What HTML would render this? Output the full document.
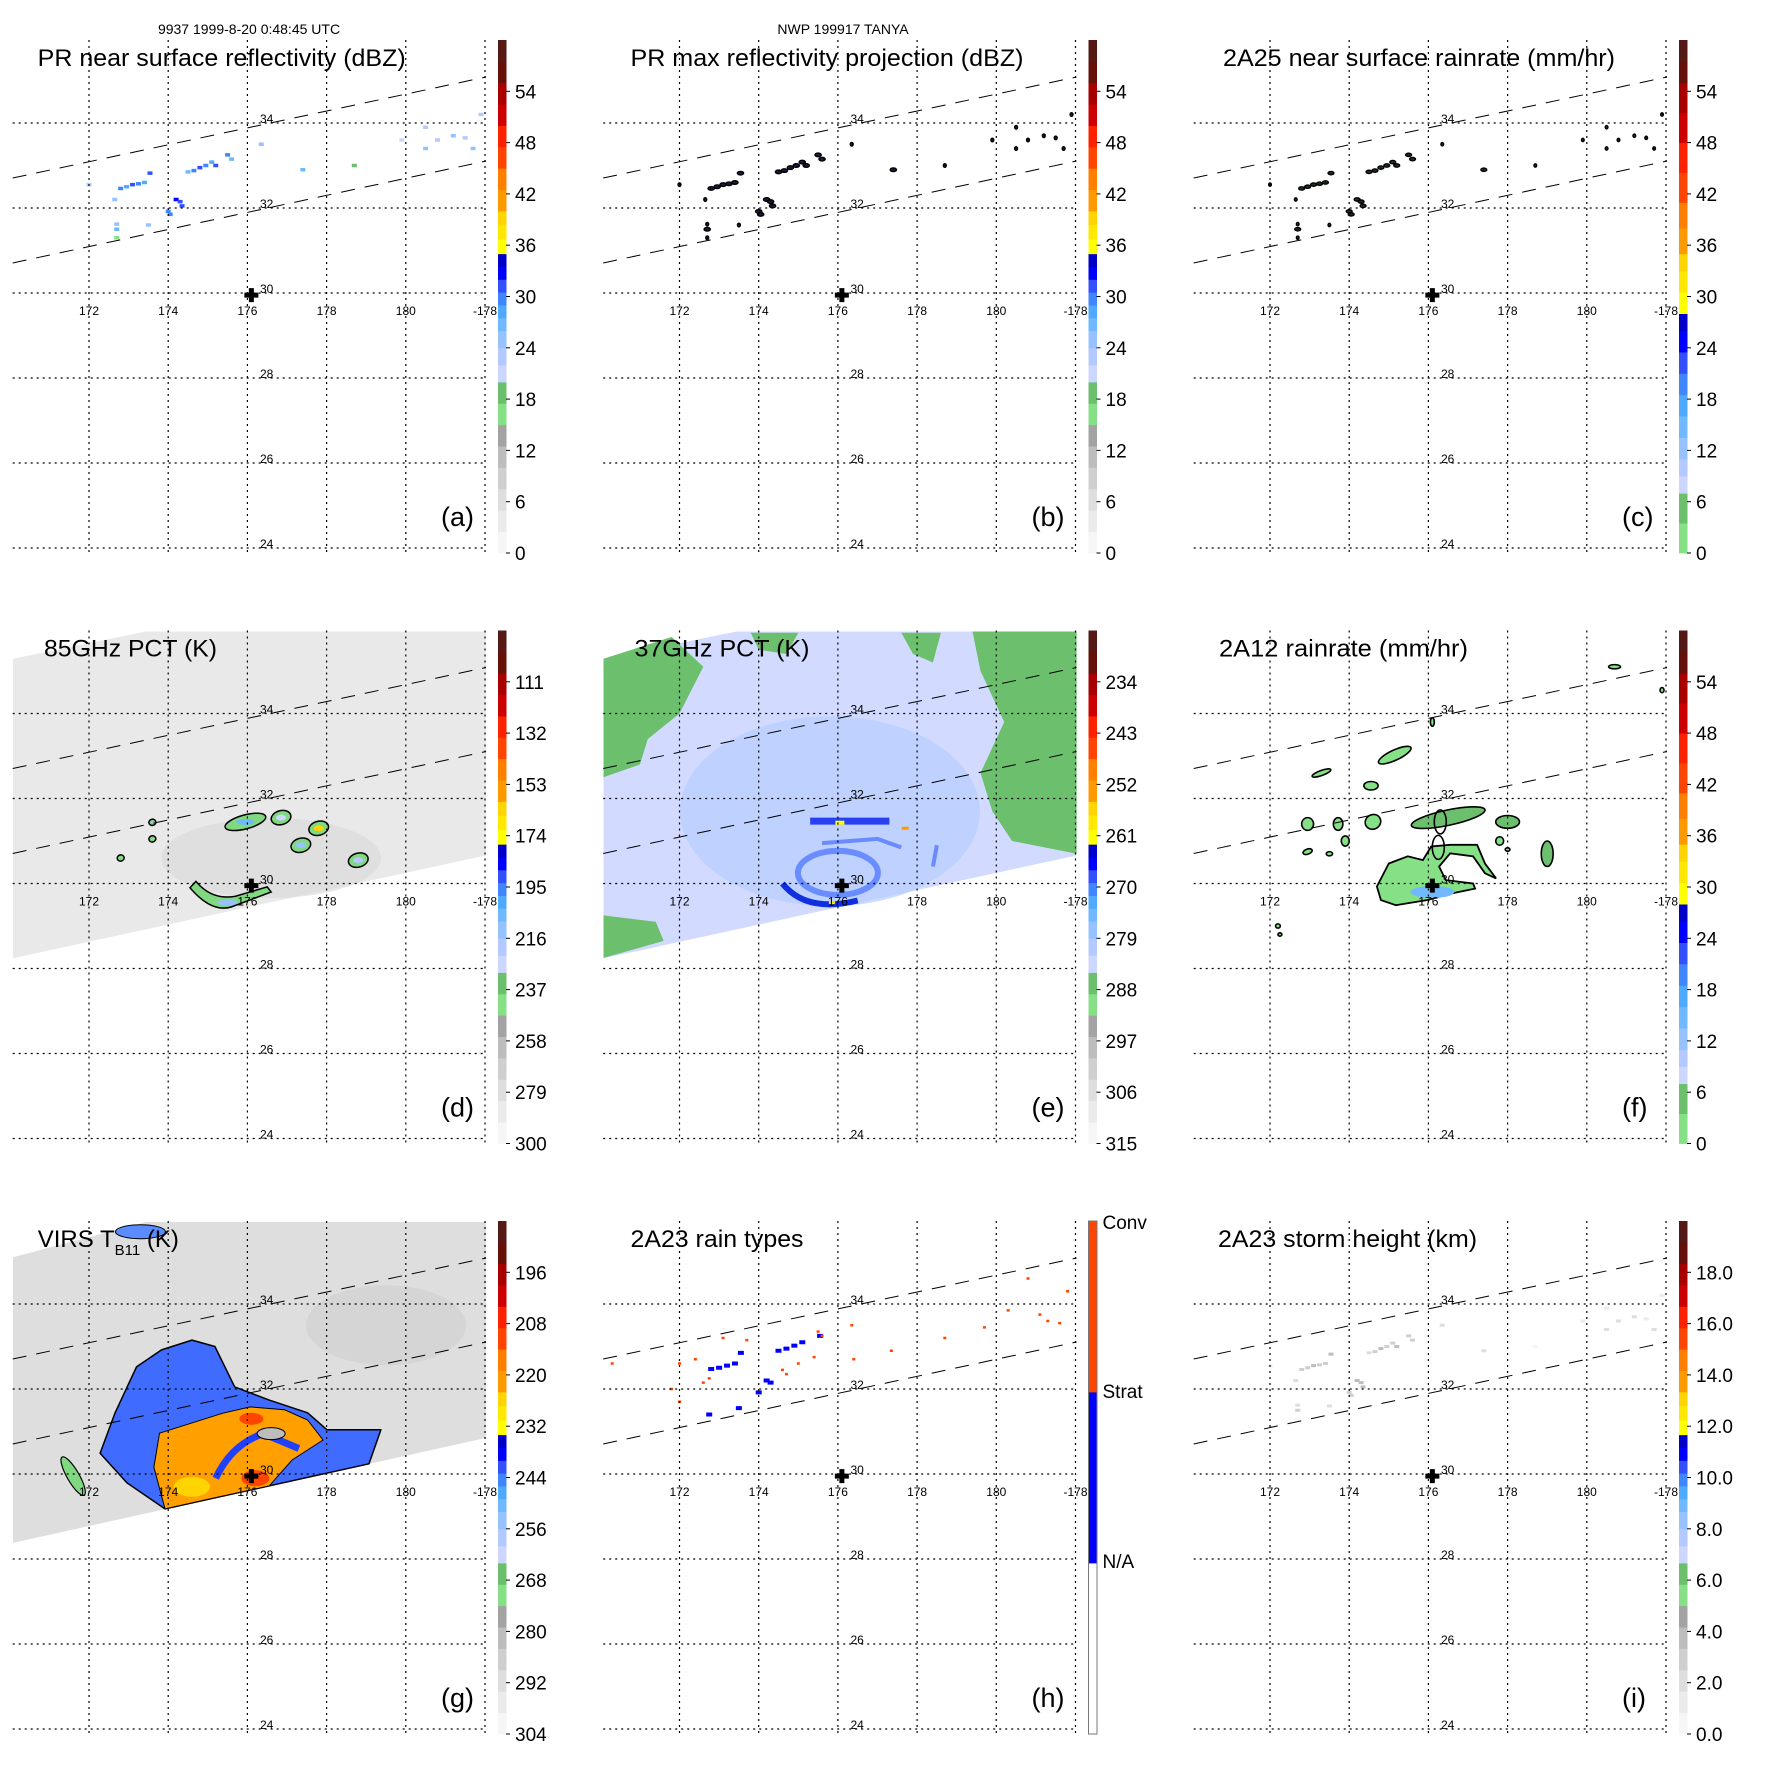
<!DOCTYPE html>
<html><head><meta charset="utf-8"><title>TRMM TANYA</title>
<style>html,body{margin:0;padding:0;background:#fff}svg{display:block}</style></head>
<body>
<svg id="fig" width="1771" height="1771" viewBox="0 0 1771 1771" xmlns="http://www.w3.org/2000/svg" font-family="'Liberation Sans', Arial, sans-serif">
<defs><clipPath id="plotclip" clipPathUnits="userSpaceOnUse"><rect x="12.7" y="40" width="473.5" height="513"/></clipPath></defs>
<rect width="1771" height="1771" fill="#fff"/>
<text x="249" y="34" font-size="14" text-anchor="middle">9937 1999-8-20 0:48:45 UTC</text>
<text x="843" y="34" font-size="14" text-anchor="middle">NWP 199917 TANYA</text>
</svg>
<script>
// ---------- data arrays ----------
const lonTicks = [172,174,176,178,180,182];
const lonTickLabels = ['172','174','176','178','180','-178'];
const latTicks = [34,32,30,28,26,24];
const stormCenter = [176.1, 29.95];
const labelsA = ['54','48','42','36','30','24','18','12','6','0'];
const labelsD = ['111','132','153','174','195','216','237','258','279','300'];
const labelsE = ['234','243','252','261','270','279','288','297','306','315'];
const labelsG = ['196','208','220','232','244','256','268','280','292','304'];
const labelsI = ['18.0','16.0','14.0','12.0','10.0','8.0','6.0','4.0','2.0','0.0'];
// PR near-surface points: lon, lat, dBZ
const prLon = [172.0,172.65,172.8,172.95,173.1,173.25,173.4,173.54,172.7,172.7,174.0,174.2,174.3,174.5,174.65,174.8,174.95,175.1,175.2,175.5,175.6,176.35,177.4,180.5,180.8,180.5,181.2,181.5,181.7,181.9,179.9,178.7,172.7,173.5,174.35,174.05];
const prLat = [32.55,32.2,32.46,32.5,32.55,32.57,32.6,32.82,31.5,31.62,31.92,32.2,32.15,32.85,32.88,32.95,33.0,33.08,33.0,33.25,33.15,33.5,32.9,33.4,33.6,33.9,33.7,33.65,33.4,34.2,33.6,33.0,31.3,31.6,32.05,31.85];
const prVal = [22,24,30,28,31,30,28,31,27,25,30,32,31,26,30,31,30,28,31,30,27,24,26,24,23,22,24,22,24,22,20,18,17,24,31,30];
// 2A23 rain types (1=strat, 2=conv)
const rtLon = [172.8,173.0,173.2,173.4,173.55,172.75,174.0,174.2,174.3,174.5,174.7,174.9,175.1,175.55,172.75,173.5,172.0,172.4,172.6,173.1,173.7,174.7,175.4,175.6,176.35,176.4,177.35,178.7,179.7,180.3,180.8,181.1,181.3,181.6,181.8,170.3,171.8,172.0,174.6,175.0,175.5];
const rtLat = [32.47,32.5,32.55,32.6,32.85,31.4,31.92,32.2,32.15,32.9,32.95,33.02,33.1,33.25,32.25,31.55,32.6,32.7,32.15,33.2,33.15,32.35,32.75,33.25,33.5,32.7,32.9,33.2,33.45,33.85,34.6,33.75,33.6,33.55,34.3,32.6,32.0,31.7,32.45,32.6,33.35];
const rtType = [1,1,1,1,1,1,1,1,1,1,1,1,1,1,2,1,2,2,2,2,2,2,2,2,2,2,2,2,2,2,2,2,2,2,2,2,2,2,2,2,2];
// 2A12 rain blobs: lon, lat, mm/hr, half-extent lon, half-extent lat, tilt
const rbLon = [175.15,173.3,174.55,172.95,173.72,174.6,173.9,176.5,178.0,179.0,177.8,176.1,172.95,173.5,178.0,180.7,181.9,172.2,172.25];
const rbLat = [33.02,32.6,32.3,31.4,31.4,31.45,31.0,31.55,31.45,30.7,31.0,33.8,30.75,30.7,30.8,35.1,34.55,29.0,28.8];
const rbVal = [3,3,3,3,3,3,3,4,4,4,3,3,3,3,3,3,3,3,3];
const rbDLon = [0.45,0.25,0.18,0.15,0.12,0.2,0.1,0.95,0.3,0.15,0.1,0.05,0.12,0.08,0.06,0.15,0.05,0.06,0.05];
const rbDLat = [0.12,0.06,0.1,0.15,0.15,0.17,0.12,0.18,0.15,0.3,0.1,0.1,0.06,0.05,0.04,0.05,0.06,0.05,0.04];
const rbTilt = [-25,-20,0,0,0,-30,0,-12,0,0,0,0,-20,0,0,0,0,0,0];
const rainCoreLon = [174.7,175.0,175.48,175.86,176.07,176.55,177.23,177.43,177.71,177.43,177.13,176.55,176.27,176.44,177.13,177.18,176.55,175.96,175.18,174.8];
const rainCoreLat = [29.93,30.47,30.64,30.55,30.87,30.91,30.91,30.47,30.12,30.24,30.64,30.71,30.4,30.08,30.0,29.88,29.76,29.61,29.49,29.61];
// 85 GHz PCT blobs (K)
const pct85Lon = [175.95,176.85,177.8,177.35,178.8,173.6,173.6,172.8];
const pct85Lat = [31.45,31.55,31.3,30.9,30.55,31.44,31.05,30.6];
const pct85Val = [205,225,165,215,220,215,240,245];
// VIRS storm outline (Tb < 244 K) and cold core (Tb < 232 K)
const virsOuterLon = [173.2,173.83,174.6,175.18,175.68,176.55,177.52,178.01,179.37,179.07,173.92,172.96,172.28,172.66];
const virsOuterLat = [32.52,32.92,33.15,33.0,32.05,31.74,31.44,31.04,31.04,30.24,29.18,29.79,30.49,31.44];
const virsCoreLon = [173.78,175.38,176.07,176.94,177.52,177.91,177.13,176.55,175.18,173.92,173.64];
const virsCoreLat = [30.96,31.43,31.58,31.51,31.27,30.8,30.33,29.72,29.44,29.18,30.16];

// ---------- helpers ----------
const NS = 'http://www.w3.org/2000/svg';
const fig = document.getElementById('fig');
function X(lon){ return 89 + (lon - 172) * 39.6; }
function Y(lat){ return 293 - (lat - 30) * 42.5; }
function V2Y(v){ return 553 - v * 8.55; }
function mk(tag, attrs, parent){
  const e = document.createElementNS(NS, tag);
  for (const k in attrs) e.setAttribute(k, attrs[k]);
  parent.appendChild(e);
  return e;
}
function pts(lons, lats){ return lons.map((l,i)=>X(l).toFixed(1)+','+Y(lats[i]).toFixed(1)).join(' '); }
const PAL_A = [[0,2.5,'#f6f6f6'],[2.5,5,'#ebebeb'],[5,7.5,'#dedede'],[7.5,10,'#cfcfcf'],[10,12.5,'#bdbdbd'],[12.5,15,'#a3a3a3'],[15,17.5,'#86e086'],[17.5,20,'#6cbf6c'],[20,22,'#cdd6ff'],[22,24,'#b3c9ff'],[24,26,'#96c3ff'],[26,27.5,'#70b8ff'],[27.5,29,'#4eaaff'],[29,30.5,'#3f86ff'],[30.5,32,'#3350ff'],[32,33.5,'#0000ff'],[33.5,35,'#0000c8'],[35,36.7,'#ffff00'],[36.7,38.4,'#ffe800'],[38.4,40,'#ffd400'],[40,42.5,'#ff9900'],[42.5,45,'#ff7f00'],[45,47.5,'#ff4500'],[47.5,50,'#ff2200'],[50,52.5,'#cc0000'],[52.5,55,'#a80000'],[55,57.5,'#66100a'],[57.5,60,'#561a16']];
const PAL_C = [[0,3.5,'#86e086'],[3.5,7,'#6cbf6c'],[7,9,'#cdd6ff'],[9,11,'#b3c9ff'],[11,13.5,'#96c3ff'],[13.5,16,'#70b8ff'],[16,18.5,'#4eaaff'],[18.5,21,'#3f86ff'],[21,23.5,'#3350ff'],[23.5,26,'#0000ff'],[26,28,'#0000c8'],[28,30.5,'#ffff00'],[30.5,33,'#ffe800'],[33,35,'#ffd400'],[35,38,'#ff9900'],[38,41,'#ff7f00'],[41,44.5,'#ff4500'],[44.5,48,'#ff2200'],[48,51.5,'#cc0000'],[51.5,55,'#a80000'],[55,57.5,'#66100a'],[57.5,60,'#561a16']];
const PAL_H = [[0,20,'#ffffff'],[20,40,'#0000ff'],[40,60,'#ff4500']];
function col(pal, v){ v=Math.max(0,Math.min(59.99,v)); for(const s of pal){ if(v>=s[0]&&v<s[1]) return s[2]; } return pal[pal.length-1][2]; }
const swath = [[170.08,35.29],[173.44,35.93],[182.03,35.93],[182.03,30.66],[170.08,28.24]];
const swathG = [[170.08,35.1],[173.44,35.93],[182.03,35.93],[182.03,30.85],[170.08,28.38]];
function swathPts(s){ return pts(s.map(p=>p[0]), s.map(p=>p[1])); }

// ---------- panel frame ----------
function frame(g, p){
  for (let i=0;i<lonTicks.length;i++){
    const l = mk('line',{x1:X(lonTicks[i]),x2:X(lonTicks[i]),y1:40,y2:553,stroke:'#000','stroke-width':1.2,'stroke-dasharray':'2 4'},g);
    
    
    const t = mk('text',{x:X(lonTicks[i]),y:315,'font-size':12,'text-anchor':'middle'},g);
    t.textContent = lonTickLabels[i];
    
    
  }
  for (let i=0;i<latTicks.length;i++){
    const l = mk('line',{x1:12.7,x2:486,y1:Y(latTicks[i]),y2:Y(latTicks[i]),stroke:'#000','stroke-width':1.2,'stroke-dasharray':'2 4'},g);
    
    
    const t = mk('text',{x:260,y:Y(latTicks[i]),'font-size':12},g);
    t.textContent = String(latTicks[i]);
    
    
  }
  const sw1 = mk('line',{x1:12.7,y1:178,x2:486,y2:77,stroke:'#000','stroke-width':1,'stroke-dasharray':'14 10'},g);
  
  
  const sw2 = mk('line',{x1:12.7,y1:263,x2:486,y2:161,stroke:'#000','stroke-width':1,'stroke-dasharray':'14 10'},g);
  
  
  const cx = X(stormCenter[0]), cy = Y(stormCenter[1]);
  const cr = mk('path',{d:`M${cx-7},${cy} H${cx+7} M${cx},${cy-7} V${cy+7}`,stroke:'#000','stroke-width':5},g);
  
  
  const tt = mk('text',{x:p.tx,y:66,'font-size':24,textLength:p.tw,lengthAdjust:'spacingAndGlyphs'},g);
  if (p.sub){
    tt.removeAttribute('textLength');
    tt.innerHTML = 'VIRS T<tspan font-size="15" dy="8">B11</tspan><tspan dy="-8"> (K)</tspan>';
  } else tt.textContent = p.title;
  
  
  const pl = mk('text',{x:441,y:526,'font-size':27},g);
  pl.textContent = '('+p.id+')';
  
  
  const cb = mk('g',{},g);
  
  
  for (const s of p.pal){
    const r = mk('rect',{x:498,y:V2Y(s[1]),width:8.5,height:V2Y(s[0])-V2Y(s[1])+0.4,fill:s[2]},cb);
    
    
  }
  if (p.id==='h'){
    const bd = mk('rect',{x:498,y:V2Y(60),width:8.5,height:513,fill:'none',stroke:'#777','stroke-width':1},cb);
    
    
    const hl = [['Conv',48],['Strat',217],['N/A',387]];
    for (const h of hl){
      const t = mk('text',{x:512,y:h[1],'font-size':19},cb);
      t.textContent = h[0];
      
      
    }
  } else {
    for (let i=0;i<p.labels.length;i++){
      const v = 54 - i*6;
      const t = mk('text',{x:515,y:V2Y(v)+7,'font-size':19},cb);
      t.textContent = p.labels[i];
      
      
      const tk = mk('line',{x1:506,x2:510,y1:V2Y(v),y2:V2Y(v),stroke:'#000','stroke-width':1},cb);
      
      
    }
  }
}

// ---------- panel data layers ----------
function dot(d, lon, lat, w, h, fill, name){
  const r = mk('rect',{x:X(lon)-w/2,y:Y(lat)-h/2,width:w,height:h,fill:fill},d);
  
  
  return r;
}
function drawA(d){ for(let i=0;i<prLon.length;i++) dot(d,prLon[i],prLat[i],5,3.5,col(PAL_A,prVal[i]),'pr-pixel'); }
function drawB(d){
  for(let i=0;i<prLon.length;i++){
    const e = mk('ellipse',{cx:X(prLon[i]),cy:Y(prLat[i]),rx:prVal[i]>=26?3.2:1.5,ry:1.8,fill:'#1a1a40',stroke:'#000','stroke-width':1.3},d);
    
    
  }
}
function drawC(d){
  for(let i=0;i<prLon.length;i++){
    const e = mk('ellipse',{cx:X(prLon[i]),cy:Y(prLat[i]),rx:prVal[i]>=26?3:1.4,ry:1.7,fill:'#203020',stroke:'#000','stroke-width':1.3},d);
    
    
  }
}
function drawD(d){
  const s = mk('polygon',{points:swathPts(swath),fill:'#e9e9e9'},d);
  
  
  const sm = mk('ellipse',{cx:X(176.6),cy:Y(30.6),rx:110,ry:40,fill:'#d8d8d8',opacity:0.6},d);
  
  
  for(let i=0;i<pct85Lon.length;i++){
    const u = (300-pct85Val[i])*54/189;
    const big = i<5 ? 1 : 0.35;
    const e = mk('ellipse',{cx:X(pct85Lon[i]),cy:Y(pct85Lat[i]),rx:(i===0?21:10)*big,ry:6*big+1,fill:'#80d880',stroke:'#000','stroke-width':1.5,transform:`rotate(-15 ${X(pct85Lon[i])} ${Y(pct85Lat[i])})`},d);
    
    
    const c = mk('ellipse',{cx:X(pct85Lon[i]),cy:Y(pct85Lat[i]),rx:(i===0?9:5)*big,ry:3*big,fill:col(PAL_A,u)},d);
    
    
  }
  const ban = mk('path',{d:`M${X(174.55)},${Y(29.9)} Q${X(175.1)},${Y(29.3)} ${X(175.6)},${Y(29.45)} L${X(176.6)},${Y(29.8)} L${X(176.5)},${Y(29.92)} L${X(175.7)},${Y(29.7)} Q${X(175.1)},${Y(29.6)} ${X(174.7)},${Y(30.05)} Z`,fill:'#80d880',stroke:'#000','stroke-width':1.5},d);
  
  
  const bc = mk('ellipse',{cx:X(175.5),cy:Y(29.55),rx:10,ry:3,fill:'#96c3ff'},d);
  
  
}
function drawE(d){
  const s = mk('polygon',{points:swathPts(swath),fill:'#d2dbff'},d);
  
  
  const lb = mk('ellipse',{cx:X(175.8),cy:Y(31.7),rx:150,ry:95,fill:'#b5cdff',opacity:0.7},d);
  
  
  const greens = [
    [[170.08,35.29],[171.8,35.8],[172.6,35.1],[172.0,34.0],[171.2,33.4],[171.0,32.8],[170.08,32.5]],
    [[179.4,35.93],[182.03,35.93],[182.03,30.7],[180.4,31.0],[179.9,31.7],[179.6,32.6],[180.2,33.8],[179.6,35.0]],
    [[170.08,28.25],[171.6,28.65],[171.4,29.1],[170.08,29.25]],
    [[173.8,35.9],[175.0,35.9],[174.7,35.4],[174.0,35.5]],
    [[177.6,35.9],[178.6,35.9],[178.4,35.2],[177.9,35.4]]];
  for(const gp of greens){
    const p = mk('polygon',{points:swathPts(gp),fill:'#6cbf6c'},d);
    
    
  }
  const ring = mk('ellipse',{cx:X(176.0),cy:Y(30.25),rx:40,ry:22,fill:'none',stroke:'#5a80ff','stroke-width':6,opacity:0.85},d);
  
  
  const arc = mk('path',{d:`M${X(174.6)},${Y(30.0)} Q${X(175.2)},${Y(29.3)} ${X(176.5)},${Y(29.6)}`,fill:'none',stroke:'#1030e0','stroke-width':6},d);
  
  
  const band = mk('rect',{x:X(175.3),y:Y(31.55),width:X(177.3)-X(175.3),height:7,fill:'#2840f0'},d);
  
  
  const band2 = mk('path',{d:`M${X(175.6)},${Y(30.95)} L${X(177.0)},${Y(31.05)} L${X(177.6)},${Y(30.85)} M${X(178.5)},${Y(30.9)} L${X(178.4)},${Y(30.4)}`,fill:'none',stroke:'#6a8aff','stroke-width':4},d);
  
  
  dot(d,176.05,31.43,9,4,'#ffff00','pct37-cold-pixel');
  dot(d,177.7,31.3,7,3,'#ff9900','pct37-cold-pixel');
  dot(d,175.85,29.55,6,3,'#ffe800','pct37-cold-pixel');
}
function drawF(d){
  const core = mk('polygon',{points:pts(rainCoreLon,rainCoreLat),fill:'#86e086',stroke:'#000','stroke-width':1.8},d);
  
  
  const bl = mk('ellipse',{cx:X(176.1),cy:Y(29.8),rx:22,ry:6,fill:'#70b8ff'},d);
  
  
  for(let i=0;i<rbLon.length;i++){
    const cx=X(rbLon[i]), cy=Y(rbLat[i]);
    const e = mk('ellipse',{cx:cx,cy:cy,rx:rbDLon[i]*39.6,ry:rbDLat[i]*42.5,fill:col(PAL_C,rbVal[i]),stroke:'#000','stroke-width':1.6,transform:`rotate(${rbTilt[i]} ${cx} ${cy})`},d);
    
    
  }
  for (const o of [[176.3,31.45],[176.25,30.85]]){
    const e = mk('ellipse',{cx:X(o[0]),cy:Y(o[1]),rx:6,ry:12,fill:'none',stroke:'#000','stroke-width':1.6},d);
    
    
  }
}
function drawG(d){
  const s = mk('polygon',{points:swathPts(swathG),fill:'#dedede'},d);
  
  
  const cl = mk('ellipse',{cx:X(179.5),cy:Y(33.5),rx:80,ry:40,fill:'#cfcfcf',opacity:0.6},d);
  
  
  const outer = mk('polygon',{points:pts(virsOuterLon,virsOuterLat),fill:'#3f6cff',stroke:'#000','stroke-width':1.5,'stroke-linejoin':'round'},d);
  
  
  const inner = mk('polygon',{points:pts(virsCoreLon,virsCoreLat),fill:'#ffa000',stroke:'#000','stroke-width':1},d);
  
  
  const y1 = mk('ellipse',{cx:X(174.6),cy:Y(29.7),rx:18,ry:10,fill:'#ffd400'},d);
  
  
  const r1 = mk('ellipse',{cx:X(176.2),cy:Y(29.9),rx:14,ry:8,fill:'#ff4500'},d);
  
  
  const r2 = mk('ellipse',{cx:X(176.1),cy:Y(31.3),rx:12,ry:6,fill:'#ff4500'},d);
  
  
  const bb = mk('path',{d:`M${X(175.2)},${Y(29.9)} Q${X(175.6)},${Y(30.7)} ${X(176.4)},${Y(30.95)} L${X(177.3)},${Y(30.6)}`,fill:'none',stroke:'#2040ff','stroke-width':7},d);
  
  
  const hole = mk('ellipse',{cx:X(176.6),cy:Y(30.95),rx:14,ry:6,fill:'#bdbdbd',stroke:'#000','stroke-width':1},d);
  
  
  const gr = mk('ellipse',{cx:X(171.6),cy:Y(29.95),rx:6,ry:22,fill:'#80d880',stroke:'#000','stroke-width':1.2,transform:`rotate(-30 ${X(171.6)} ${Y(29.95)})`},d);
  
  
  const tl = mk('ellipse',{cx:X(173.3),cy:Y(35.7),rx:25,ry:7,fill:'#5a8cff',stroke:'#000','stroke-width':1},d);
  
  
}
function drawH(d){
  for(let i=0;i<rtLon.length;i++) dot(d,rtLon[i],rtLat[i],rtType[i]===1?6:3,rtType[i]===1?4:2.5,rtType[i]===1?'#0000ff':'#ff4500','rain-type-pixel');
}
function drawI(d){
  for(let i=0;i<prLon.length;i++) dot(d,prLon[i],prLat[i],5,3,col(PAL_A,(prVal[i]-14)*0.6),'storm-height-pixel');
}

const panels = [
  {id:'a',row:0,col:0,title:'PR near surface reflectivity (dBZ)',tx:37.7,tw:368,pal:PAL_A,labels:labelsA,draw:drawA},
  {id:'b',row:0,col:1,title:'PR max reflectivity projection (dBZ)',tx:40,tw:393,pal:PAL_A,labels:labelsA,draw:drawB},
  {id:'c',row:0,col:2,title:'2A25 near surface rainrate (mm/hr)',tx:42,tw:392,pal:PAL_C,labels:labelsA,draw:drawC},
  {id:'d',row:1,col:0,title:'85GHz PCT (K)',tx:44,tw:173,pal:PAL_A,labels:labelsD,draw:drawD},
  {id:'e',row:1,col:1,title:'37GHz PCT (K)',tx:44,tw:175,pal:PAL_A,labels:labelsE,draw:drawE},
  {id:'f',row:1,col:2,title:'2A12 rainrate (mm/hr)',tx:38,tw:249,pal:PAL_C,labels:labelsA,draw:drawF},
  {id:'g',row:2,col:0,title:'VIRS TB11 (K)',tx:37.7,tw:147,pal:PAL_A,labels:labelsG,draw:drawG,sub:true},
  {id:'h',row:2,col:1,title:'2A23 rain types',tx:40,tw:173,pal:PAL_H,labels:[],draw:drawH},
  {id:'i',row:2,col:2,title:'2A23 storm height (km)',tx:37,tw:259,pal:PAL_A,labels:labelsI,draw:drawI}
];
for (const p of panels){
  const g = mk('g',{transform:`translate(${p.col*590.5},${p.row*590.5})`},fig);
  
  
  const d = mk('g',{'clip-path':'url(#plotclip)'},g);
  
  
  p.draw(d);
  frame(g,p);
}
</script>
</body></html>
